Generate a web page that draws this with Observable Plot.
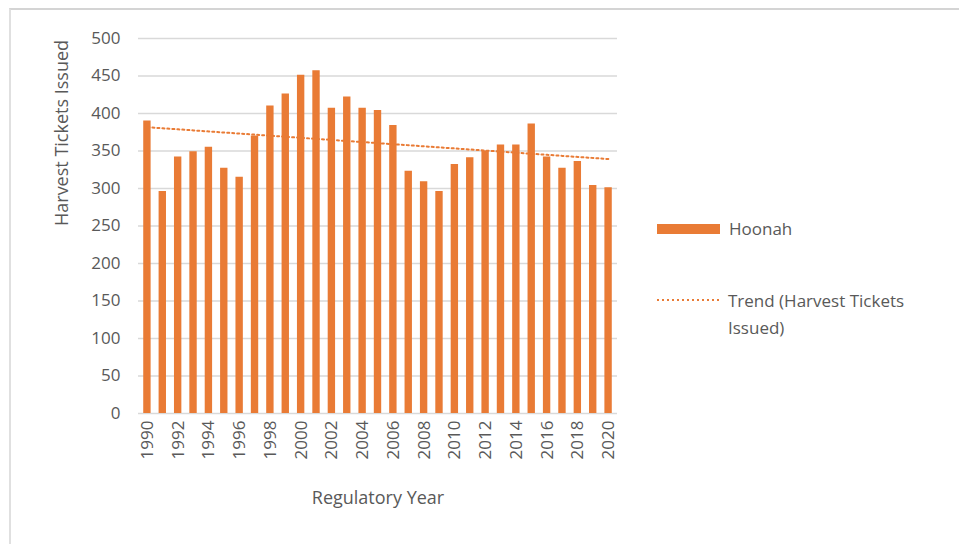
<!DOCTYPE html>
<html>
<head>
<meta charset="utf-8">
<script src="https://cdn.jsdelivr.net/npm/d3@7"></script>
<script src="https://cdn.jsdelivr.net/npm/@observablehq/plot@0.6"></script>
<style>
  html, body { margin: 0; padding: 0; background: #fff; }
  #wrap { position: relative; width: 959px; height: 544px; overflow: hidden; font-family: "Open Sans", sans-serif; color: #595959; }
  #frame { position: absolute; left: 9px; top: 8px; right: 0; bottom: 0; border-top: 2px solid #d4d4d4; border-left: 2px solid #e0e0e0; }
  #chart { position: absolute; left: 0; top: 0; }
  .leg { position: absolute; font-size: 17px; line-height: 27px; color: #595959; }
</style>
</head>
<body>
<div id="wrap">
  <div id="frame"></div>
  <div id="chart"></div>
  <div id="legend"></div>
</div>
<script>
const years = [1990,1991,1992,1993,1994,1995,1996,1997,1998,1999,2000,2001,2002,2003,2004,2005,2006,2007,2008,2009,2010,2011,2012,2013,2014,2015,2016,2017,2018,2019,2020];
const tickets = [390,296,342,349,355,327,315,370,410,426,451,457,407,422,407,404,384,323,309,296,332,341,350,358,358,386,342,327,336,304,301];
const yTicks = [0,50,100,150,200,250,300,350,400,450,500];
const xTickLabels = [1990,1992,1994,1996,1998,2000,2002,2004,2006,2008,2010,2012,2014,2016,2018,2020];
const seriesName = "Hoonah";
const trendName = "Trend (Harvest Tickets Issued)";
const yTitle = "Harvest Tickets Issued";
const xTitle = "Regulatory Year";

const color = "#E97B35";
const data = years.map((y, i) => ({year: y, value: tickets[i]}));

// least-squares trend computed from the data
const mx = d3.mean(years), my = d3.mean(tickets);
const slope = d3.sum(years, (x, i) => (x - mx) * (tickets[i] - my)) / d3.sum(years, x => (x - mx) ** 2);
const intercept = my - slope * mx;
const trend = years.map(x => ({year: x, value: intercept + slope * x}));

const chart = Plot.plot({
  width: 959,
  height: 544,
  marginLeft: 138,
  marginRight: 342,
  marginTop: 38,
  marginBottom: 131,
  style: {fontFamily: "Open Sans, sans-serif", fontSize: "17px", color: "#595959", background: "transparent"},
  x: {type: "band", domain: years, round: false, paddingInner: 0.52, paddingOuter: 0.34, ticks: xTickLabels, tickFormat: d => String(d), tickRotate: -90, tickSize: 0, tickPadding: 7, label: null},
  y: {domain: [0, 500], ticks: yTicks, tickSize: 0, tickPadding: 18, label: null},
  marks: [
    Plot.ruleY(yTicks, {stroke: "#d9d9d9", strokeWidth: 1.5}),
    Plot.barY(data, {x: "year", y: "value", fill: color}),
    Plot.line(trend, {x: "year", y: "value", stroke: color, strokeWidth: 2, strokeDasharray: "2,3"}),
    Plot.text([yTitle], {frameAnchor: "left", rotate: -90, dx: -76, fontSize: 18, fill: "#595959"}),
    Plot.text([xTitle], {frameAnchor: "bottom", dy: 90, fontSize: 18, fill: "#595959"})
  ]
});
document.getElementById("chart").appendChild(chart);

// legend
const legend = document.getElementById("legend");
legend.innerHTML = `
  <div style="position:absolute;left:657px;top:224px;width:63px;height:10px;background:${color}"></div>
  <div class="leg" style="left:729px;top:215px">${seriesName}</div>
  <svg style="position:absolute;left:657px;top:296px" width="64" height="8"><line x1="0" x2="62" y1="4" y2="4" stroke="${color}" stroke-width="2" stroke-dasharray="2,3"/></svg>
  <div class="leg" style="left:728px;top:287px;width:225px">${trendName}</div>
`;
</script>
</body>
</html>
